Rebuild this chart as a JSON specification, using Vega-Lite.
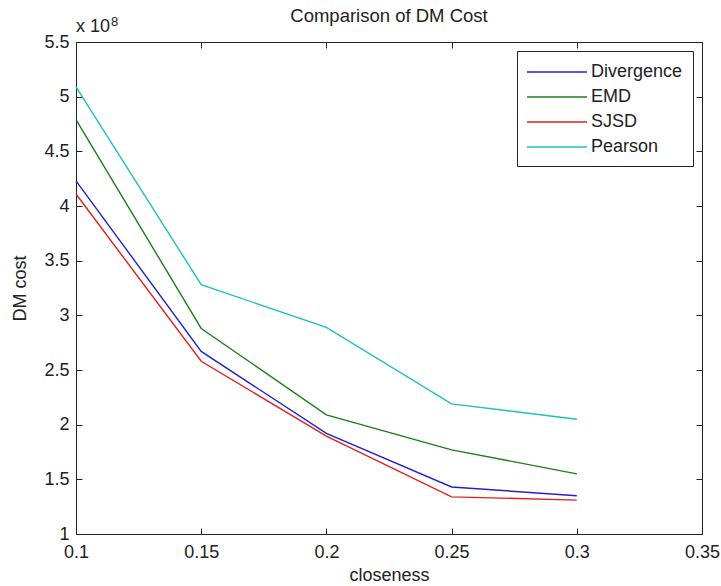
{
  "$schema": "https://vega.github.io/schema/vega-lite/v6.json",
  "width": 626,
  "height": 492,
  "autosize": "none",
  "padding": {"left": 76, "top": 42, "right": 19, "bottom": 52},
  "background": "white",
  "title": {"text": "Comparison of DM Cost", "fontSize": 18.5, "fontWeight": "normal", "font": "Liberation Sans", "color": "#222", "anchor": "middle", "offset": -9},
  "config": {
    "view": {"stroke": "#222", "strokeWidth": 1},
    "font": "Liberation Sans",
    "axis": {"grid": false, "domain": false, "tickColor": "#222", "tickSize": -6, "tickWidth": 1, "labelFont": "Liberation Sans", "labelFontSize": 18, "labelColor": "#222", "titleFont": "Liberation Sans", "titleFontSize": 18, "titleFontWeight": "normal", "titleColor": "#222", "labelFlush": false, "labelOverlap": false},
    "legend": {"orient": "top-right", "offset": 9, "strokeColor": "#222", "strokeWidth": 1, "fillColor": "white", "padding": 10, "symbolType": "M-3,0H3", "symbolSize": 400, "symbolStrokeWidth": 1.4, "symbolOffset": 19, "labelOffset": 23, "labelFontSize": 18, "labelFont": "Liberation Sans", "labelColor": "#222", "rowPadding": 5, "title": null}
  },
  "data": {"values": [
    {"method": "Divergence", "closeness": 0.1, "cost": 423000000},
    {"method": "Divergence", "closeness": 0.15, "cost": 267000000},
    {"method": "Divergence", "closeness": 0.2, "cost": 192000000},
    {"method": "Divergence", "closeness": 0.25, "cost": 143000000},
    {"method": "Divergence", "closeness": 0.3, "cost": 135000000},
    {"method": "EMD", "closeness": 0.1, "cost": 479000000},
    {"method": "EMD", "closeness": 0.15, "cost": 288000000},
    {"method": "EMD", "closeness": 0.2, "cost": 209000000},
    {"method": "EMD", "closeness": 0.25, "cost": 177000000},
    {"method": "EMD", "closeness": 0.3, "cost": 155000000},
    {"method": "SJSD", "closeness": 0.1, "cost": 411000000},
    {"method": "SJSD", "closeness": 0.15, "cost": 258000000},
    {"method": "SJSD", "closeness": 0.2, "cost": 189500000},
    {"method": "SJSD", "closeness": 0.25, "cost": 134000000},
    {"method": "SJSD", "closeness": 0.3, "cost": 131000000},
    {"method": "Pearson", "closeness": 0.1, "cost": 509000000},
    {"method": "Pearson", "closeness": 0.15, "cost": 328000000},
    {"method": "Pearson", "closeness": 0.2, "cost": 289000000},
    {"method": "Pearson", "closeness": 0.25, "cost": 219000000},
    {"method": "Pearson", "closeness": 0.3, "cost": 205000000}
  ]},
  "layer": [
    {
      "mark": {"type": "line", "strokeWidth": 1.4},
      "encoding": {
        "x": {"field": "closeness", "type": "quantitative", "scale": {"domain": [0.1, 0.35], "nice": false, "zero": false},
              "axis": {"orient": "bottom", "values": [0.1, 0.15, 0.2, 0.25, 0.3, 0.35], "format": "~g", "labelPadding": 15, "title": "closeness", "titlePadding": 5}},
        "y": {"field": "cost", "type": "quantitative", "scale": {"domain": [100000000, 550000000], "nice": false, "zero": false},
              "axis": {"orient": "left", "values": [100000000, 150000000, 200000000, 250000000, 300000000, 350000000, 400000000, 450000000, 500000000, 550000000], "labelExpr": "format(datum.value / 100000000, '~g')", "labelPadding": 13, "title": "DM cost", "titlePadding": 14}},
        "color": {"field": "method", "type": "nominal",
                  "scale": {"domain": ["Divergence", "EMD", "SJSD", "Pearson"], "range": ["#2222cc", "#1a7f1a", "#e02020", "#1fbfbf"]},
                  "legend": {"title": null}}
      }
    },
    {
      "mark": {"type": "line", "opacity": 0},
      "encoding": {
        "x": {"field": "closeness", "type": "quantitative", "axis": {"orient": "top", "values": [0.1, 0.15, 0.2, 0.25, 0.3, 0.35], "labels": false, "title": null}},
        "y": {"field": "cost", "type": "quantitative", "axis": {"orient": "right", "values": [100000000, 150000000, 200000000, 250000000, 300000000, 350000000, 400000000, 450000000, 500000000, 550000000], "labels": false, "title": null}},
        "detail": {"field": "method"}
      }
    },
    {
      "data": {"values": [{"note": "x 10"}]},
      "mark": {"type": "text", "align": "left", "baseline": "alphabetic", "dy": -10, "fontSize": 18, "color": "#222"},
      "encoding": {
        "text": {"field": "note"},
        "x": {"datum": 0.1, "type": "quantitative", "axis": null},
        "y": {"datum": 550000000, "type": "quantitative", "axis": null}
      }
    },
    {
      "data": {"values": [{"note": "8"}]},
      "mark": {"type": "text", "align": "left", "baseline": "alphabetic", "dx": 35, "dy": -16, "fontSize": 13, "color": "#222"},
      "encoding": {
        "text": {"field": "note"},
        "x": {"datum": 0.1, "type": "quantitative", "axis": null},
        "y": {"datum": 550000000, "type": "quantitative", "axis": null}
      }
    }
  ],
  "resolve": {"axis": {"x": "independent", "y": "independent"}}
}
